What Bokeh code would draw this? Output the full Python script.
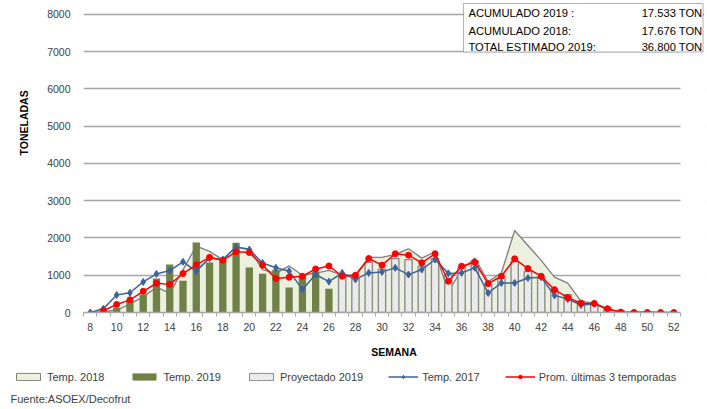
from bokeh.plotting import figure
from bokeh.layouts import column
from bokeh.models import (Range1d, FixedTicker, Label, BoxAnnotation, Legend,
                          LegendItem, ColumnDataSource, Title)
from bokeh.embed import file_html
from bokeh.resources import INLINE

NaN = float("nan")

weeks = list(range(8, 53))
temp_2018 = [0, 20, 60, 230, 420, 680, 520, 1150, 1780, 1640, 1420, 1760, 1700, 1150,
             1050, 1250, 1000, 1060, 1130, 1000, 1000, 1480, 1480, 1560, 1710, 1460, 1630,
             550, 1150, 1460, 830, 1060, 2200, 1800, 1400, 950, 790, 300, 250, 80, 20, 10,
             20, 0, 0]
temp_2019 = [0, 30, 130, 330, 480, 910, 1290, 855, 1880, 1340, 1400, 1875, 1210, 1040,
             1150, 670, 950, 1100, 640] + [NaN] * 26
proyectado_2019 = [NaN] * 19 + [1020, 940, 1350, 1160, 1450, 1420, 1240, 1450, 1020, 1200,
                                1380, 750, 920, 1370, 1100, 940, 600, 480, 300, 230, 130,
                                45, 20, 20, 0, 0]
temp_2017 = [0, 100, 470, 530, 820, 1035, 1125, 1360, 1110, 1460, 1425, 1757, 1690, 1330,
             1200, 1110, 620, 1020, 830, 1063, 890, 1063, 1090, 1198, 1018, 1153, 1423,
             1050, 1063, 1200, 523, 793, 793, 928, 946, 459, 360, 200, 230, 90, 0,
             NaN, NaN, NaN, NaN]
prom_3_temporadas = [NaN, 50, 215, 340, 570, 785, 755, 1045, 1280, 1480, 1400, 1630, 1610,
                     1270, 910, 946, 973, 1170, 1250, 973, 1000, 1450, 1270, 1577, 1540, 1333,
                     1577, 838, 1243, 1350, 775, 973, 1441, 1180, 973, 613, 400, 250, 244,
                     100, 10, 0, 0, 0, 0]
y_ticks = [0, 1000, 2000, 3000, 4000, 5000, 6000, 7000, 8000]
x_ticks = list(range(8, 53, 2))
resumen_labels = ["ACUMULADO 2019 :", "ACUMULADO 2018:", "TOTAL ESTIMADO 2019:"]
resumen_values = ["17.533 TON", "17.676 TON", "36.800 TON"]
series_names = ["Temp. 2018", "Temp. 2019", "Proyectado 2019", "Temp. 2017",
                "Prom. últimas 3 temporadas"]
fuente = "Fuente:ASOEX/Decofrut"

FONT = "Liberation Sans"
TXT = "#404040"
C18_FILL, C18_LINE = "#EBF1DE", "#7F7F7F"
C19 = "#6F8147"
CPR_FILL, CPR_LINE, CPR_HATCH = "#F4F4F4", "#8C8C8C", "#D6D6D6"
C17 = "#3C6499"
CPROM = "#FF0000"
X_LO, X_HI = 7.5, 52.5          # category span of the axis
X_END = 54.31                   # frame continues under the summary box
Y_END = 8322
W = 706

src = ColumnDataSource(dict(week=weeks, t18=temp_2018, t19=temp_2019, proy=proyectado_2019,
                            t17=temp_2017, prom=prom_3_temporadas))

p = figure(width=W, height=362, output_backend="svg", toolbar_location=None,
           x_range=Range1d(X_LO, X_END), y_range=Range1d(0, Y_END),
           min_border_left=83, min_border_right=2, min_border_top=2, min_border_bottom=50)
p.outline_line_color = None
p.xgrid.grid_line_color = None
p.ygrid.grid_line_color = "#A6A6A6"
p.ygrid.grid_line_width = 1.3

p.yaxis.ticker = FixedTicker(ticks=y_ticks)
p.yaxis.axis_line_color = None
p.yaxis.major_tick_line_color = None
p.yaxis.minor_tick_line_color = None
p.yaxis.major_tick_out = 0
p.yaxis.major_label_standoff = 13
p.yaxis.major_label_text_font = FONT
p.yaxis.major_label_text_font_size = "10.5px"
p.yaxis.major_label_text_color = TXT

p.xaxis.ticker = FixedTicker(ticks=x_ticks, minor_ticks=[w - 0.5 for w in weeks] + [X_HI])
p.xaxis.bounds = (X_LO, X_HI)
p.xaxis.axis_line_color = "#A6A6A6"
p.xaxis.axis_line_width = 1.3
p.xaxis.major_tick_line_color = None
p.xaxis.major_tick_out = 4
p.xaxis.major_tick_in = 0
p.xaxis.minor_tick_line_color = "#A6A6A6"
p.xaxis.minor_tick_out = 4
p.xaxis.minor_tick_in = 0
p.xaxis.major_label_standoff = 6
p.xaxis.major_label_text_font = FONT
p.xaxis.major_label_text_font_size = "10.5px"
p.xaxis.major_label_text_color = TXT
p.xaxis.axis_label = "SEMANA"
p.xaxis.axis_label_standoff = 12
p.xaxis.axis_label_text_font = FONT
p.xaxis.axis_label_text_font_size = "10.5px"
p.xaxis.axis_label_text_font_style = "bold"
p.xaxis.axis_label_text_color = "black"

p.add_layout(Title(text="TONELADAS", align="left", offset=157, standoff=29,
                   text_font=FONT, text_font_size="10.5px", text_font_style="bold",
                   text_color="black"), "left")

# Temp. 2018 area
p.varea(x="week", y1=0, y2="t18", source=src, fill_color=C18_FILL)
p.line(x="week", y="t18", source=src, line_color=C18_LINE, line_width=1.3)

p.vbar(x="week", top="t19", width=0.55, source=src, fill_color=C19, line_color=None)
p.vbar(x="week", top="proy", width=0.55, source=src, fill_color=CPR_FILL,
       line_color=CPR_LINE, line_width=1.4, hatch_pattern="right_diagonal_line",
       hatch_color=CPR_HATCH, hatch_scale=5, hatch_weight=0.8)

p.line(x="week", y="t17", source=src, line_color=C17, line_width=1.5)
p.scatter(x="week", y="t17", source=src, marker="diamond", size=7,
          fill_color=C17, line_color=C17)
p.line(x="week", y="prom", source=src, line_color=CPROM, line_width=1.5)
p.scatter(x="week", y="prom", source=src, marker="circle", size=6,
          fill_color=CPROM, line_color=CPROM)

# hide grid lines right of the category axis, under the summary box column
p.add_layout(BoxAnnotation(left=X_HI, right=X_END + 1, bottom=-500, top=7060,
                           fill_color="white", fill_alpha=1, line_color=None))
# summary box
p.add_layout(BoxAnnotation(left=36.14, right=54.2, bottom=6993, top=8295, fill_color="white",
                           fill_alpha=1, line_color="black", line_width=1))
row_y = [8027, 7544, 7128]
for lab, val, yy in zip(resumen_labels, resumen_values, row_y):
    p.add_layout(Label(x=36.52, y=yy, text=lab, text_font=FONT, text_font_size="11.2px",
                       text_color="black", text_baseline="middle", text_align="left"))
    p.add_layout(Label(x=54.15, y=yy, text=val, text_font=FONT, text_font_size="11.2px",
                       text_color="black", text_baseline="middle", text_align="right"))

# ---- legend strip + source note
H2 = 45
q = figure(width=W, height=H2, output_backend="svg", toolbar_location=None,
           x_range=Range1d(0, W), y_range=Range1d(0, H2),
           x_axis_location=None, y_axis_location=None,
           min_border_left=0, min_border_right=0, min_border_top=0, min_border_bottom=0)
q.frame_align = False
q.outline_line_color = None
q.grid.grid_line_color = None
nan1 = [NaN]
g18 = q.rect(x=nan1, y=nan1, width=1, height=1, fill_color=C18_FILL, line_color=C18_LINE,
             line_width=1)
g19 = q.vbar(x=nan1, top=nan1, width=1, fill_color=C19, line_color=None)
gpr = q.vbar(x=nan1, top=nan1, width=1, fill_color=CPR_FILL, line_color=CPR_LINE,
             line_width=1, hatch_pattern="right_diagonal_line", hatch_color=CPR_HATCH,
             hatch_scale=5, hatch_weight=0.8)
g17l = q.line(x=nan1, y=nan1, line_color=C17, line_width=1.5)
g17s = q.scatter(x=nan1, y=nan1, marker="diamond", size=6, fill_color=C17, line_color=C17)
gpl = q.line(x=nan1, y=nan1, line_color=CPROM, line_width=1.5)
gps = q.scatter(x=nan1, y=nan1, marker="circle", size=5, fill_color=CPROM,
                line_color=CPROM)

legend = Legend(items=[
    LegendItem(label=series_names[0], renderers=[g18]),
    LegendItem(label=series_names[1], renderers=[g19]),
    LegendItem(label=series_names[2], renderers=[gpr]),
    LegendItem(label=series_names[3], renderers=[g17l, g17s]),
    LegendItem(label=series_names[4], renderers=[gpl, gps]),
], orientation="horizontal", location=(13, 24.5), glyph_width=30, glyph_height=9,
    label_standoff=4, spacing=25, padding=0, margin=0, border_line_color=None,
    background_fill_alpha=0, label_text_font=FONT, label_text_font_size="11px",
    label_text_color=TXT, label_height=12)
q.add_layout(legend, "center")
q.add_layout(Label(x=10, y=9, text=fuente, text_font=FONT, text_font_size="11px",
                   text_color=TXT, text_align="left", text_baseline="middle"))

layout = column(p, q, spacing=0)
open("out.html", "w").write(file_html(layout, INLINE))
